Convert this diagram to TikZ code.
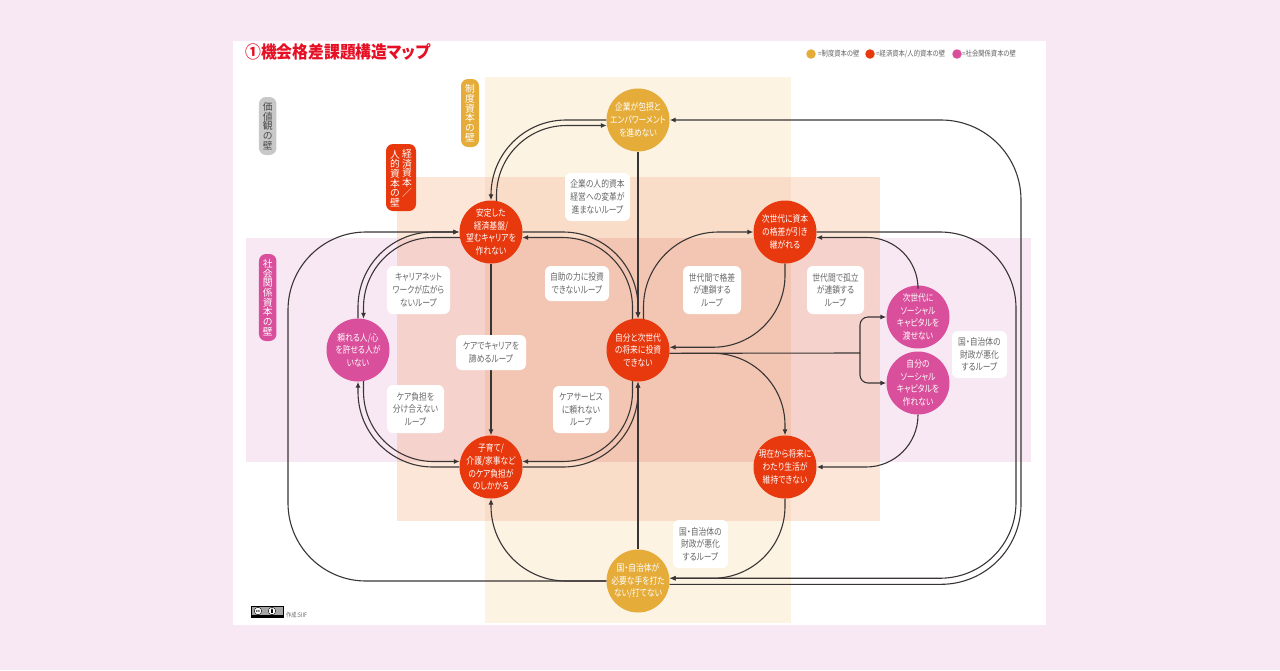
\documentclass[tikz,border=0pt]{standalone}
\usepackage{fontspec}
\usetikzlibrary{arrows.meta,shapes.geometric}
\newfontfamily\jp[RawFeature=+palt,FakeStretch=.82]{Noto Sans CJK JP}
\newfontfamily\jptitle[RawFeature=+palt,FakeStretch=.92]{Noto Sans CJK JP}
\newfontfamily\jpv{Noto Sans CJK JP}
\definecolor{bgpink}{HTML}{F8E8F4}
\definecolor{wyel}{HTML}{E5AC3A}
\definecolor{wred}{HTML}{E8380D}
\definecolor{wpink}{HTML}{D94F9B}
\definecolor{wgray}{HTML}{C8C8C8}
\definecolor{bY}{HTML}{FCF3E3}
\definecolor{bO}{HTML}{FCE6D8}
\definecolor{bP}{HTML}{F8E8F4}
\definecolor{bYO}{HTML}{F9DDC8}
\definecolor{bOP}{HTML}{F5D3CC}
\definecolor{bAll}{HTML}{F3C6B3}
\definecolor{lnk}{HTML}{3A3535}
\definecolor{lbl}{HTML}{666666}
\definecolor{ttl}{HTML}{E60F24}
\tikzset{
  x=1pt,y=-1pt,
  circ/.style={circle,minimum size=63pt,inner sep=-14pt,align=center,text=white,font=\fontsize{9.5}{12.7}\selectfont\jp},
  ycirc/.style={circ,fill=wyel},
  rcirc/.style={circ,fill=wred},
  pcirc/.style={circ,fill=wpink},
  lab/.style={rectangle,rounded corners=6pt,fill=white,inner sep=0pt,align=center,text=lbl,font=\fontsize{9.5}{12.7}\selectfont\jp},
  tag/.style={rectangle,rounded corners=7pt,inner sep=0pt},
  vtxt/.style={inner sep=0pt,align=center,font=\fontsize{9.8}{9.7}\selectfont\jpv},
  lnkline/.style={draw=lnk,line width=1.1pt},
  arr/.style={lnkline,-{Latex[length=6pt,width=5pt]}},
  leg/.style={inner sep=0pt,anchor=west,text=lbl,font=\fontsize{7.7}{8}\selectfont\jp},
  legdot/.style={circle,minimum size=9.5pt,inner sep=0pt}
}
\newcommand{\boxat}[5]{\fill[#5] (#1,#2) rectangle (#3,#4);}
\begin{document}
\begin{tikzpicture}
\useasboundingbox (0,0) rectangle (1280,670);
\fill[bgpink] (0,0) rectangle (1280,670);
\fill[white] (233,41) rectangle (1046,625);
% bands
\boxat{485}{77}{791}{623}{bY}
\boxat{397}{177}{880}{521}{bO}
\boxat{246}{238}{1031}{462}{bP}
\boxat{485}{177}{791}{521}{bYO}
\boxat{397}{238}{880}{462}{bOP}
\boxat{485}{238}{791}{462}{bAll}
% title and legend
\node[inner sep=0pt,anchor=west,text=ttl,font=\fontsize{17.2}{19}\selectfont\bfseries\jptitle] (title) at (245,52) {①機会格差課題構造マップ};
\node[legdot,fill=wyel] (d1) at (811,54) {};
\node[leg] (l1) at (818,54) {=制度資本の壁};
\node[legdot,fill=wred] (d2) at (870,54) {};
\node[leg] (l2) at (876,54) {=経済資本/人的資本の壁};
\node[legdot,fill=wpink] (d3) at (957,54) {};
\node[leg] (l3) at (962,54) {=社会関係資本の壁};
% wall tags
\node[tag,fill=wgray,minimum width=17.5pt,minimum height=58pt] (tv) at (267.7,126) {};
\node[vtxt,text=black!70] (tvt) at (267.7,126) {価\\値\\観\\の\\壁};
\node[tag,fill=wyel,minimum width=18pt,minimum height=68pt] (ts) at (470,113) {};
\node[vtxt,text=white] (tst) at (470,113) {制\\度\\資\\本\\の\\壁};
\node[tag,fill=wred,minimum width=30pt,minimum height=67pt] (te) at (401,177.5) {};
\node[vtxt,text=white,anchor=north] (te1) at (407,149) {経\\済\\資\\本\\／};
\node[vtxt,text=white,anchor=north] (te2) at (395,150) {人\\的\\資\\本\\の\\壁};
\node[tag,fill=wpink,minimum width=17.5pt,minimum height=87pt] (tk) at (267.7,297.5) {};
\node[vtxt,text=white] (tkt) at (267.7,297.5) {社\\会\\関\\係\\資\\本\\の\\壁};
% circles
\node[ycirc] (top) at (638,120) {企業が包摂と\\エンパワーメント\\を進めない};
\node[rcirc] (stable) at (491,232) {安定した\\経済基盤/\\望むキャリアを\\作れない};
\node[rcirc] (nextgen) at (785,232) {次世代に資本\\の格差が引き\\継がれる};
\node[pcirc] (tano) at (358,350) {頼れる人/心\\を許せる人が\\いない};
\node[rcirc] (self) at (638,350) {自分と次世代\\の将来に投資\\できない};
\node[pcirc] (jsoc) at (918,317) {次世代に\\ソーシャル\\キャピタルを\\渡せない};
\node[pcirc] (jib) at (918,383) {自分の\\ソーシャル\\キャピタルを\\作れない};
\node[rcirc] (kosodate) at (491,467) {子育て/\\介護/家事など\\のケア負担が\\のしかかる};
\node[rcirc] (genzai) at (785,467) {現在から将来に\\わたり生活が\\維持できない};
\node[ycirc] (kuni) at (638,581) {国・自治体が\\必要な手を打た\\ない/打てない};
% helper coordinates
\coordinate (bigL) at (288,400);
\coordinate (rightA) at (1016,400);
\coordinate (rightB) at (1021,400);
\coordinate (split) at (860,353);
% connectors
\draw[arr,rounded corners=75pt] (top.180) -| (stable.north);
\draw[arr,rounded corners=70pt] (stable.80) |- (top.190);
\draw[arr,rounded corners=78pt] (kuni.180) -| (bigL) |- (stable.180);
\draw[arr,rounded corners=75pt] (tano.north) |- (stable.180);
\draw[arr,rounded corners=70pt] (stable.190) -| (tano.80);
\draw[arr,rounded corners=75pt] (stable.0) -| (self.north);
\draw[arr,rounded corners=70pt] (self.100) |- (stable.350);
\draw[arr] (stable.south) -- (kosodate.north);
\draw[arr,rounded corners=75pt] (kosodate.180) -| (tano.south);
\draw[arr,rounded corners=70pt] (tano.280) |- (kosodate.170);
\draw[arr,rounded corners=75pt] (kosodate.0) -| (self.south);
\draw[arr,rounded corners=70pt] (self.260) |- (kosodate.10);
\draw[arr,rounded corners=75pt] (kuni.180) -| (kosodate.south);
\draw[arr] (kuni.north) -- (self.south);
\draw[arr] (top.south) -- (self.north);
\draw[arr,rounded corners=75pt] (self.80) |- (nextgen.180);
\draw[arr,rounded corners=72pt] (nextgen.south) |- (self.5.5);
\draw[arr,rounded corners=76pt] (nextgen.0) -| (rightA) |- (kuni.5.5);
\draw[arr,rounded corners=80pt] (kuni.354.5) -| (rightB) |- (top.0);
\draw[arr,rounded corners=51pt] (jsoc.north) |- (nextgen.350);
\draw[lnkline] (self.354.5) -- (split);
\draw[arr,rounded corners=8pt] (split) |- (jsoc.180);
\draw[arr,rounded corners=8pt] (split) |- (jib.180);
\draw[arr,rounded corners=72pt] (self.354.5) -| (genzai.north);
\draw[arr,rounded corners=52pt] (jib.south) |- (genzai.0);
\draw[arr,rounded corners=72pt] (genzai.south) |- (kuni.5.5);
% loop labels
\node[lab,minimum width=65pt,minimum height=48pt] (b1) at (597.5,197) {企業の人的資本\\経営への変革が\\進まないループ};
\node[lab,minimum width=63pt,minimum height=48pt] (b2) at (418.5,290) {キャリアネット\\ワークが広がら\\ないループ};
\node[lab,minimum width=64pt,minimum height=35pt] (b3) at (577,283.5) {自助の力に投資\\できないループ};
\node[lab,minimum width=70pt,minimum height=35pt] (b4) at (491,352.5) {ケアでキャリアを\\諦めるループ};
\node[lab,minimum width=57pt,minimum height=48pt] (b5) at (415.5,409) {ケア負担を\\分け合えない\\ループ};
\node[lab,minimum width=56pt,minimum height=47pt] (b6) at (581,409.5) {ケアサービス\\に頼れない\\ループ};
\node[lab,minimum width=58pt,minimum height=48pt] (b7) at (712,290) {世代間で格差\\が連鎖する\\ループ};
\node[lab,minimum width=57pt,minimum height=48pt] (b8) at (835.5,290) {世代間で孤立\\が連鎖する\\ループ};
\node[lab,minimum width=55pt,minimum height=47pt] (b9) at (979.5,354.5) {国・自治体の\\財政が悪化\\するループ};
\node[lab,minimum width=55pt,minimum height=48pt] (b10) at (700.5,544) {国・自治体の\\財政が悪化\\するループ};
% licence badge
\node[draw=black,fill=black!35,line width=0.5pt,minimum width=32pt,minimum height=11pt,inner sep=0pt] (cc) at (267.5,611.8) {};
\fill[black] (251.5,615) rectangle (283.5,617.3);
\node[circle,draw=black,fill=white,line width=0.4pt,minimum size=7.5pt,inner sep=0pt,font=\fontsize{4.5}{5}\selectfont\bfseries\sffamily] (cc1) at (258,611) {cc};
\node[circle,draw=black,fill=white,line width=0.4pt,minimum size=7.5pt,inner sep=0pt] (cc2) at (272,611) {};
\fill[black] (272,609.2) circle (0.8);
\fill[black] (271,610.4) rectangle (273,613);
\node[inner sep=0pt,anchor=west,text=lbl,font=\fontsize{6.3}{7}\selectfont\jp] (credit) at (286,615) {作成:SIIF};
\end{tikzpicture}
\end{document}
